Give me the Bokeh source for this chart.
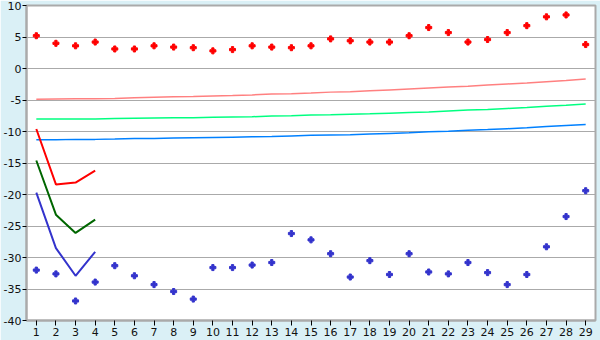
from bokeh.plotting import figure
from bokeh.models import FixedTicker, Range1d, PrintfTickFormatter
from bokeh.embed import file_html
from bokeh.resources import INLINE

days = list(range(1, 30))

red_points = [5.2, 4.0, 3.6, 4.2, 3.1, 3.1, 3.6, 3.4, 3.3, 2.8, 3.0, 3.6, 3.4, 3.3, 3.6,
              4.7, 4.4, 4.2, 4.2, 5.2, 6.5, 5.7, 4.2, 4.6, 5.7, 6.8, 8.2, 8.5, 3.8]
blue_points = [-32.0, -32.6, -36.9, -33.9, -31.3, -32.9, -34.3, -35.4, -36.6, -31.6, -31.6,
               -31.2, -30.8, -26.2, -27.2, -29.4, -33.1, -30.5, -32.7, -29.4, -32.3, -32.6,
               -30.8, -32.4, -34.3, -32.7, -28.3, -23.5, -19.4]

pink_trend = [-4.9, -4.85, -4.8, -4.8, -4.75, -4.65, -4.55, -4.5, -4.45, -4.35, -4.3, -4.2,
              -4.05, -4.0, -3.9, -3.75, -3.7, -3.55, -3.4, -3.25, -3.1, -2.95, -2.8, -2.6,
              -2.45, -2.3, -2.1, -1.9, -1.65]
green_trend = [-8.0, -8.0, -8.0, -8.0, -7.95, -7.9, -7.85, -7.8, -7.8, -7.75, -7.7, -7.65,
               -7.55, -7.5, -7.4, -7.35, -7.25, -7.2, -7.1, -7.0, -6.9, -6.75, -6.6, -6.5,
               -6.35, -6.2, -6.0, -5.85, -5.65]
blue_trend = [-11.3, -11.3, -11.25, -11.25, -11.2, -11.1, -11.1, -11.05, -11.0, -10.95, -10.9,
              -10.85, -10.8, -10.7, -10.6, -10.55, -10.5, -10.4, -10.3, -10.2, -10.05, -9.95,
              -9.8, -9.7, -9.55, -9.4, -9.2, -9.05, -8.9]

short_days = [1, 2, 3, 4]
red_line = [-9.6, -18.4, -18.1, -16.2]
green_line = [-14.6, -23.2, -26.1, -24.0]
blue_line = [-19.7, -28.5, -32.9, -29.1]

y_ticks = [-40, -35, -30, -25, -20, -15, -10, -5, 0, 5, 10]

p = figure(width=600, height=340, output_backend="svg", toolbar_location=None,
           x_range=Range1d(0.5, 29.5), y_range=Range1d(-40, 10),
           min_border_left=26, min_border_right=5, min_border_top=5, min_border_bottom=20)

p.background_fill_color = "white"
p.border_fill_color = "#daf0f6"
p.outline_line_color = "#aaaaaa"
p.outline_line_width = 2

p.xgrid.visible = False
p.ygrid.grid_line_color = "#aaaaaa"
p.ygrid.grid_line_width = 1
p.ygrid.ticker = FixedTicker(ticks=y_ticks)

for ax in (p.xaxis[0], p.yaxis[0]):
    ax.axis_line_color = "#aaaaaa"
    ax.axis_line_width = 2
    ax.major_tick_line_color = "black"
    ax.minor_tick_line_color = None
    ax.major_tick_in = 0
    ax.major_tick_out = 4
    ax.major_label_text_font = "DejaVu Sans"
    ax.major_label_text_font_size = "11px"
    ax.major_label_text_color = "#111111"
    ax.major_label_standoff = 1

p.xaxis.ticker = FixedTicker(ticks=days)
p.yaxis.ticker = FixedTicker(ticks=y_ticks)
p.yaxis.formatter = PrintfTickFormatter(format="%d")
p.xaxis.major_tick_out = 5
p.xaxis.major_label_standoff = 2

p.line(days, pink_trend, line_color="#ff8080", line_width=1.5)
p.line(days, green_trend, line_color="#00ff80", line_width=1.5)
p.line(days, blue_trend, line_color="#0080ff", line_width=1.5)

p.line(short_days, red_line, line_color="#ff0000", line_width=2)
p.line(short_days, green_line, line_color="#006600", line_width=2)
p.line(short_days, blue_line, line_color="#3333cc", line_width=2)

p.scatter(days, red_points, marker="plus", size=6, color="#ff0000")
p.scatter(days, blue_points, marker="plus", size=6, color="#3333cc")

open("out.html", "w").write(file_html(p, INLINE))
